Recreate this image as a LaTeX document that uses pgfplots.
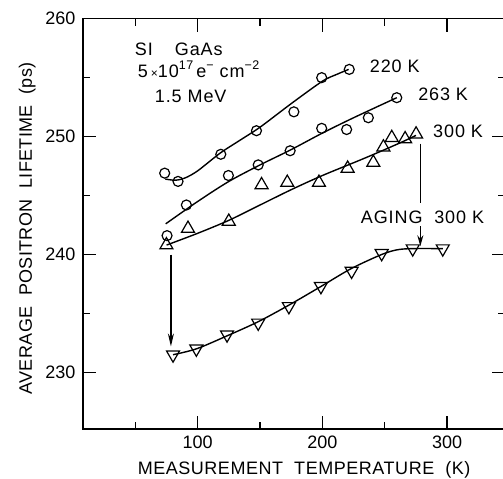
\documentclass[border=0pt]{standalone}
\usepackage{pgfplots}
\pgfplotsset{compat=1.18}
\usepackage{pgfplotstable}
\usepackage{fontspec}
\setmainfont{Liberation Sans}
\usetikzlibrary{arrows.meta}

\newcommand\lblfont{\fontsize{18bp}{21bp}\selectfont}
\newcommand\notefont{\fontsize{18bp}{21bp}\selectfont\addfontfeatures{LetterSpace=5}}
\newcommand\upidx[1]{\raisebox{0.42em}{\fontsize{12.5bp}{14bp}\selectfont #1}}

% measured lifetimes after annealing at 220 K, 263 K, 300 K and after aging at 300 K
\pgfplotstableread{
T tau
73.5 246.9
84.2 246.2
118.5 248.5
147.1 250.5
177.1 252.1
199.4 255.0
221.5 255.7
}\annealA
\pgfplotstableread{
T tau
75.4 241.6
90.9 244.2
124.6 246.7
148.5 247.6
174.1 248.8
199.4 250.7
219.4 250.6
236.8 251.6
259.6 253.3
}\annealB
\pgfplotstableread{
T tau
74.9 240.8
92.2 242.2
124.9 242.8
151.2 245.9
171.8 246.1
197.2 246.1
220.2 247.3
240.8 247.8
248.9 249.1
255.6 249.9
266.3 249.8
275.1 250.2
}\annealC
\pgfplotstableread{
T tau
80.2 231.5
98.9 232.0
123.5 233.2
148.5 234.2
173.1 235.6
198.8 237.3
223.4 238.6
247.5 240.1
272.4 240.5
296.5 240.5
}\aging

% hand-drawn guide curves
\pgfplotstableread{
T tau
74 246.4
82 246.3
90 246.5
100 247.1
118 248.6
134 249.7
150 250.8
175 252.8
200 254.7
212 255.3
221 255.7
}\fitA
\pgfplotstableread{
T tau
74.3 242.6
100 244.5
125 246.2
150 247.6
175 248.9
200 250.3
225 251.6
259.6 253.3
}\fitB
\pgfplotstableread{
T tau
75 240.8
100 241.8
125 242.9
150 244.2
175 245.5
200 246.7
230 248.0
250 248.9
265 249.6
275 250.1
}\fitC
\pgfplotstableread{
T tau
80.2 231.5
99 232.0
123.5 233.1
148.5 234.3
173 235.7
199 237.3
223 238.8
247.5 240.0
260 240.4
272.4 240.5
296.5 240.5
}\fitD

\begin{document}
\begin{tikzpicture}
\begin{axis}[
  scale only axis, width=422bp, height=410.3bp,
  xmin=8, xmax=346.4, ymin=225.2, ymax=260,
  xtick={100,200,300}, minor xtick={50,150,250},
  ytick={230,240,250,260}, minor ytick={235,245,255},
  major tick length=13bp, minor tick length=7bp,
  tick align=inside,
  every tick/.style={black, line width=1.3bp},
  axis line style={line width=1.5bp},
  tick label style={font=\lblfont},
  /pgf/number format/assume math mode=true,
  xticklabel style={yshift=-3bp},
  yticklabel style={xshift=-4bp},
  clip=false,
  every axis plot/.append style={black, line width=1.4bp},
]
% guide curves
\addplot[smooth, no marks] table[x=T, y=tau] {\fitA};
\addplot[smooth, no marks] table[x=T, y=tau] {\fitB};
\addplot[smooth, no marks] table[x=T, y=tau] {\fitC};
\addplot[smooth, no marks] table[x=T, y=tau] {\fitD};
% data points
\addplot[only marks, mark=o, mark size=5bp, mark options={fill=white, line width=1.2bp}] table[x=T, y=tau] {\annealA};
\addplot[only marks, mark=o, mark size=5bp, mark options={fill=white, line width=1.2bp}] table[x=T, y=tau] {\annealB};
\addplot[only marks, mark=triangle, mark size=7.5bp, mark options={fill=white, line width=1.2bp}] table[x=T, y=tau] {\annealC};
\addplot[only marks, mark=triangle, mark size=7.5bp, mark options={fill=white, line width=1.2bp, rotate=180}] table[x=T, y=tau] {\aging};

% arrows
\draw[line width=1.4bp, -{Stealth[length=13bp, width=6bp]}] (axis cs:78.5,240.0) -- (axis cs:78.5,232.2);
\draw[line width=1.4bp] (axis cs:278.5,249.4) -- (axis cs:278.5,244.4);
\draw[line width=1.4bp, -{Stealth[length=11bp, width=6bp]}] (axis cs:278.5,242.4) -- (axis cs:278.5,240.7);

% annotations
\node[font=\notefont, anchor=base west, inner sep=0] at (axis cs:49.5,256.87) {SI\hspace{22bp}GaAs};
\node[font=\notefont, anchor=base west, inner sep=0] at (axis cs:51.9,255.03) {5\,{\fontsize{12bp}{12bp}\selectfont ×}10\upidx{17}\,e\upidx{−}\ cm\upidx{−2}};
\node[font=\notefont, anchor=base west, inner sep=0] at (axis cs:65.5,252.9) {1.5 MeV};
\node[font=\notefont, anchor=base west, inner sep=0] at (axis cs:237.9,255.45) {220 K};
\node[font=\notefont, anchor=base west, inner sep=0] at (axis cs:276.7,253.05) {263 K};
\node[font=\notefont, anchor=base west, inner sep=0] at (axis cs:288.7,249.94) {300 K};
\node[font=\notefont, anchor=base west, inner sep=0] at (axis cs:230.7,242.6) {AGING\ \ 300 K};

% axis titles
\node[font={\lblfont\addfontfeatures{LetterSpace=3}}, anchor=base, inner sep=0]
  at ([yshift=-45bp]rel axis cs:0.524,0) {MEASUREMENT\ \ TEMPERATURE\ \ (K)};
\node[font={\lblfont\addfontfeatures{LetterSpace=2}}, anchor=base, inner sep=0, rotate=90]
  at ([xshift=-51bp]rel axis cs:0,0.489) {AVERAGE\ \ POSITRON\ \ LIFETIME\ \ (ps)};
\end{axis}
\pgfresetboundingbox
\useasboundingbox ([shift={(-83bp,-50bp)}]current axis.south west) rectangle ++(503bp,479bp);
\end{tikzpicture}
\end{document}
